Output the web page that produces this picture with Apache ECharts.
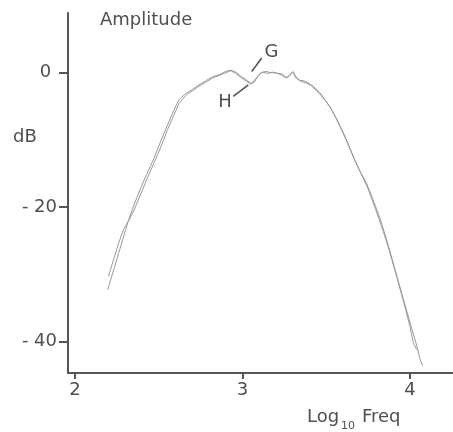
<!DOCTYPE html>
<html>
<head>
<meta charset="utf-8">
<script src="https://cdn.jsdelivr.net/npm/echarts@6/dist/echarts.min.js"></script>
<style>
  html, body { margin: 0; padding: 0; background: #fff; }
  #chart { width: 453px; height: 432px; }
</style>
</head>
<body>
<div id="chart"></div>
<script>
// Amplitude spectra G and H (dB against log10 frequency)
const freqG = [2.195, 2.23, 2.26, 2.29, 2.316, 2.35, 2.39, 2.43, 2.47, 2.51, 2.55, 2.59, 2.62, 2.66, 2.70,
  2.74, 2.78, 2.82, 2.86, 2.90, 2.93, 2.96, 2.99, 3.02, 3.05, 3.08, 3.10, 3.12, 3.15, 3.18, 3.21, 3.24,
  3.26, 3.28, 3.30, 3.32, 3.34, 3.37, 3.40, 3.43, 3.46, 3.49, 3.52, 3.55, 3.58, 3.62, 3.66, 3.70, 3.74,
  3.78, 3.82, 3.86, 3.90, 3.94, 3.98, 4.01, 4.04, 4.06, 4.075];
const dbG = [-32.3, -29.4, -26.9, -24.4, -22.2, -19.8, -17.3, -15.0, -12.8, -10.3, -7.9, -5.6, -4.0, -3.1, -2.5,
  -1.8, -1.2, -0.6, -0.3, 0.2, 0.4, 0.1, -0.5, -1.0, -1.6, -0.9, -0.2, 0.1, -0.1, 0.1, -0.1, -0.2,
  -0.7, -0.4, 0.2, -0.6, -1.1, -1.2, -1.6, -2.2, -2.9, -3.9, -5.0, -6.3, -7.8, -9.9, -12.4, -14.6, -16.4,
  -18.9, -21.6, -24.8, -28.3, -31.9, -35.4, -38.0, -40.6, -42.6, -43.6];

const freqH = [2.20, 2.23, 2.26, 2.29, 2.316, 2.35, 2.39, 2.43, 2.47, 2.51, 2.55, 2.59, 2.62, 2.66, 2.70,
  2.74, 2.78, 2.82, 2.86, 2.90, 2.93, 2.96, 2.99, 3.02, 3.05, 3.07, 3.09, 3.11, 3.14, 3.17, 3.20, 3.23,
  3.26, 3.28, 3.30, 3.32, 3.35, 3.38, 3.41, 3.44, 3.47, 3.50, 3.53, 3.56, 3.59, 3.63, 3.67, 3.71, 3.75,
  3.79, 3.83, 3.87, 3.91, 3.95, 3.98, 4.00, 4.02, 4.04];
const dbH = [-30.3, -27.8, -25.4, -23.3, -22.2, -20.6, -18.2, -15.8, -13.5, -11.2, -8.6, -6.3, -4.6, -3.4, -2.7,
  -2.0, -1.4, -0.8, -0.4, 0.0, 0.3, -0.1, -0.7, -1.2, -1.7, -1.4, -0.6, 0.0, 0.2, 0.0, 0.0, -0.3,
  -0.8, -0.5, 0.1, -0.8, -1.3, -1.5, -1.9, -2.6, -3.4, -4.3, -5.4, -6.8, -8.4, -10.6, -13.0, -15.1, -17.3,
  -20.0, -22.8, -25.9, -29.4, -33.0, -35.8, -37.8, -40.2, -41.2];

// Axis ticks
const xTicks = [2, 3, 4];
const yTicks = [0, -20, -40];

// Curve labels with their leader lines (data coordinates)
const curveLabels = ['G', 'H'];
const labelAt = [[3.173, 2.98], [2.896, -4.4]];
const leaderFrom = [[3.055, 0.19], [3.035, -1.79]];
const leaderTo = [[3.115, 2.19], [2.945, -3.53]];

const FONT = 'DejaVu Sans';
const INK = '#4f4f4f';
const CURVE = '#9a9a9a';

const zip = (xs, ys) => xs.map((x, i) => [x, ys[i]]);

const chart = echarts.init(document.getElementById('chart'), null, { renderer: 'canvas' });

chart.setOption({
  animation: false,
  backgroundColor: '#ffffff',
  grid: { left: 68, right: 0, top: 13, bottom: 59, containLabel: false },
  xAxis: {
    type: 'value',
    min: 1.958,
    max: 4.257,
    axisLine: { show: true, onZero: false, lineStyle: { color: '#555', width: 2 } },
    axisTick: { show: true, customValues: xTicks, length: 6, lineStyle: { color: '#555', width: 2 } },
    axisLabel: {
      show: true, customValues: xTicks, margin: 8,
      color: INK, fontFamily: FONT, fontSize: 18,
      formatter: v => String(v)
    },
    splitLine: { show: false }
  },
  yAxis: {
    type: 'value',
    min: -44.7,
    max: 8.9,
    axisLine: { show: true, onZero: false, lineStyle: { color: '#555', width: 2 } },
    axisTick: { show: true, customValues: yTicks, length: 9, lineStyle: { color: '#555', width: 2 } },
    axisLabel: {
      show: true, customValues: yTicks, margin: 11,
      color: INK, fontFamily: FONT, fontSize: 18,
      formatter: v => (v < 0 ? '- ' + Math.abs(v) : String(v) + ' ')
    },
    splitLine: { show: false }
  },
  series: [
    {
      name: 'G',
      type: 'line',
      data: zip(freqG, dbG),
      showSymbol: false,
      symbol: 'none',
      lineStyle: { color: CURVE, width: 1 },
      markLine: {
        silent: true,
        symbol: 'none',
        label: { show: false },
        lineStyle: { color: '#555', width: 1.6, type: 'solid' },
        data: leaderFrom.map((p, i) => [{ coord: p }, { coord: leaderTo[i] }])
      },
      markPoint: {
        silent: true,
        symbol: 'circle',
        symbolSize: 0,
        label: {
          show: true, position: 'inside',
          color: INK, fontFamily: FONT, fontSize: 18,
          formatter: p => p.name
        },
        data: curveLabels.map((n, i) => ({ name: n, coord: labelAt[i] }))
      }
    },
    {
      name: 'H',
      type: 'line',
      data: zip(freqH, dbH),
      showSymbol: false,
      symbol: 'none',
      lineStyle: { color: CURVE, width: 1 }
    }
  ],
  graphic: [
    { type: 'text', left: 100, top: 11, style: { text: 'Amplitude', fill: INK, font: '18px "DejaVu Sans"' } },
    { type: 'text', left: 13, top: 128, style: { text: 'dB', fill: INK, font: '18px "DejaVu Sans"' } },
    { type: 'text', left: 307, top: 408, style: { text: 'Log', fill: INK, font: '18px "DejaVu Sans"' } },
    { type: 'text', left: 341, top: 421, style: { text: '10', fill: INK, font: '11px "DejaVu Sans"' } },
    { type: 'text', left: 362, top: 408, style: { text: 'Freq', fill: INK, font: '18px "DejaVu Sans"' } }
  ]
});
</script>
</body>
</html>
